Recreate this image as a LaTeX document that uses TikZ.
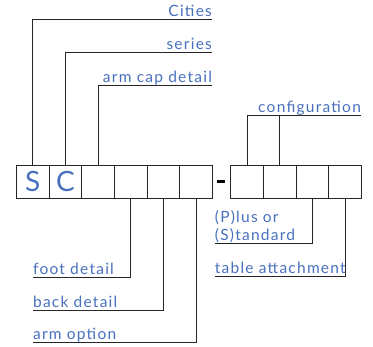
\documentclass[tikz,border=0pt]{standalone}
\usepackage{fontspec}
\setmainfont{Lato}[LetterSpace=8]
\definecolor{labelblue}{RGB}{72,112,190}
\tikzset{
	slot/.style={rectangle, draw, minimum width=32.6pt, minimum height=33pt, inner sep=0pt, text=labelblue, font=\fontsize{28}{28}\selectfont},
	toplbl/.style={anchor=south east, inner xsep=0pt, inner ysep=2.5pt, text depth=0pt, text=labelblue, font=\fontsize{15.5}{18}\selectfont},
	botlbl/.style={toplbl, anchor=south west}
}
\begin{document}
\begin{tikzpicture}[x=1pt,y=-1pt,line width=0.8pt,draw=black!85]
	\useasboundingbox (0,0) rectangle (373,347);
	% code slots
	\foreach \i/\t in {1/S,2/C,3/,4/,5/,6/}
		\node (b\i) at ({16.5+32.63*(\i-0.5)},181.5) [slot] {\t};
	\node (dash) at (221.3,181.5) [rectangle, fill=black, minimum width=8pt, minimum height=3pt, inner sep=0pt] {};
	\foreach \j in {1,...,4}
		\node (c\j) at ({230.7+32.65*(\j-0.5)},181.5) [slot] {};
	% labels
	\node (cities) at (212.3, 19.0)	[toplbl]	{Cities};
	\node (series) at (212.3, 52.3)	[toplbl]	{series};
	\node (armcap) at (212.3, 85.0)	[toplbl]	{arm cap detail};
	\node (config) at (361.3,115.0)	[toplbl]	{configuration};
	\node (foot)   at ( 32.7,277.3)	[botlbl]	{foot detail};
	\node (back)   at ( 32.7,310.0)	[botlbl]	{back detail};
	\node (armopt) at ( 32.7,342.7)	[botlbl]	{arm option};
	\node (plus)   at (214.5,243.0)	[botlbl, align=left]	{(P)lus or\\(S)tandard};
	\node (table)  at (214.5,276.0)	[botlbl]	{table attachment};
	% leaders
	\draw (b1.north) |- (cities.south east);
	\draw (b2.north) |- (series.south east);
	\draw (b3.north) |- (armcap.south east);
	\draw (c1.north) |- (config.south east);
	\draw (c2.north) -- (c2.north |- config.south);
	\draw (b4.south) |- (foot.south west);
	\draw (b5.south) |- (back.south west);
	\draw (b6.south) |- (armopt.south west);
	\draw (c3.south) |- (plus.south west);
	\draw (c4.south) |- (table.south west);
\end{tikzpicture}
\end{document}
